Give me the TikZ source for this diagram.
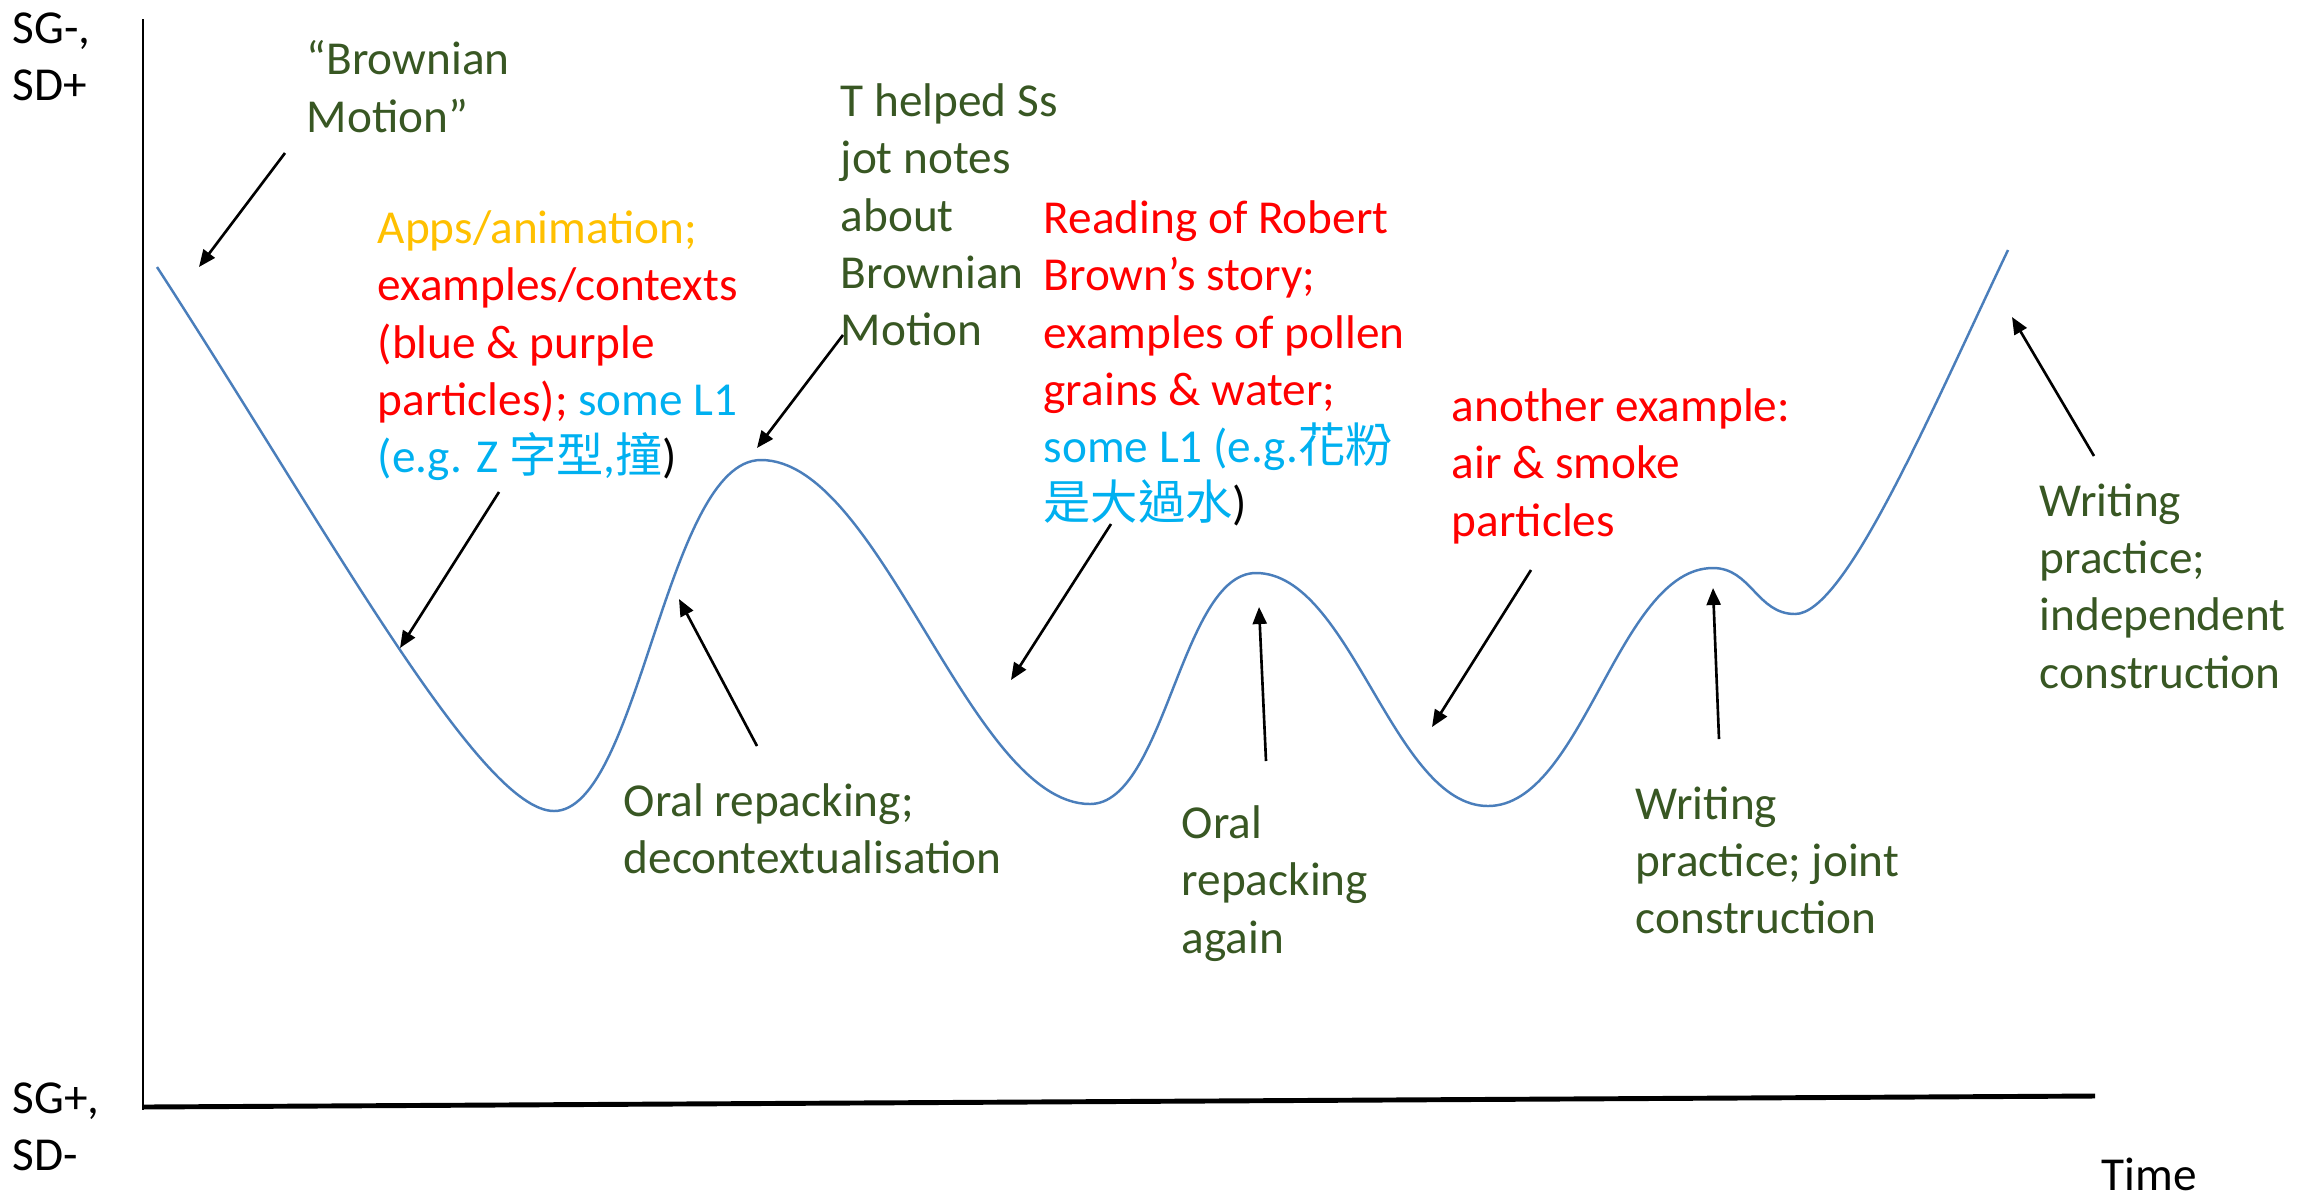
\documentclass[tikz,border=0pt]{standalone}
\usepackage{fontspec}
\setmainfont{Carlito}
\newfontfamily\cjk{Noto Sans CJK TC}
\usetikzlibrary{arrows.meta}
\definecolor{olivetxt}{HTML}{385723}
\definecolor{curveblue}{HTML}{4A7EBB}
\definecolor{appsorange}{HTML}{FFC000}
\definecolor{lonecyan}{HTML}{00B0F0}
\newcommand\lblsize{\fontsize{13.45pt}{16.3pt}\selectfont}
\begin{document}
\begin{tikzpicture}[x=0.1mm,y=-0.1mm,
	lbl/.style={anchor=north west,inner sep=0pt,align=left,font=\lblsize},
	arr/.style={-{Triangle[length=1.7mm,width=1.4mm]},line width=0.75pt}]
	\useasboundingbox (0,0) rectangle (2304,1196);
	%axis
	\draw[line width=0.85pt] (143,19) -- (143,1110);
	\draw[line width=1.4pt] (143,1107) -- (2095,1096);

	%semantic wave
	\draw[curveblue,line width=0.7pt] (157,267) .. controls (327,529) and (480,811) .. (554,811)
	  .. controls (639,811) and (666,460) .. (761,460)
	  .. controls (881,460) and (970,804) .. (1090,804)
	  .. controls (1165,804) and (1181,573) .. (1256,573)
	  .. controls (1351,573) and (1393,806) .. (1488,806)
	  .. controls (1583,806) and (1618,568) .. (1713,568)
	  .. controls (1751,568) and (1757,614) .. (1795,614)
	  .. controls (1845,614) and (1928,418) .. (2008,250);

	%axis labels
	\node[lbl] (sgtop) at (12,12) {SG-,\\SD+};
	\node[lbl] (sgbot) at (12,1082) {SG+,\\SD-};
	\node[lbl] (time) at (2101,1157) {Time};

	%labels above the wave
	\node[lbl,text=olivetxt] (brownian) at (306,40) {“Brownian\\Motion”};
	\node[lbl] (apps) at (377,210) {\textcolor{appsorange}{Apps/animation;}\\
	  \textcolor{red}{examples/contexts}\\\textcolor{red}{(blue \& purple}\\
	  \textcolor{red}{particles);} \textcolor{lonecyan}{some L1}\\
	  \textcolor{lonecyan}{(e.g. Z {\cjk 字型},{\cjk 撞}})};
	\node[lbl,text=olivetxt] (thelped) at (840,83) {T helped Ss\\jot notes\\about\\Brownian\\Motion};
	\node[lbl,text=red] (reading) at (1043,200) {Reading of Robert\\Brown’s story;\\examples of pollen\\grains \& water;\\
	  \textcolor{lonecyan}{some L1 (e.g.{\cjk 花粉}}\\\textcolor{lonecyan}{\cjk 是大過水}\textcolor{black}{)}};
	\node[lbl,text=red] (another) at (1451,388) {another example:\\air \& smoke\\particles};
	\node[lbl,text=olivetxt] (wrindep) at (2039,483) {Writing\\practice;\\independent\\construction};

	%labels below the wave
	\node[lbl,text=olivetxt] (oralre) at (623,783) {Oral repacking;\\decontextualisation};
	\node[lbl,text=olivetxt] (oralagain) at (1181,805) {Oral\\repacking\\again};
	\node[lbl,text=olivetxt] (wrjoint) at (1635,786) {Writing\\practice; joint\\construction};

	%arrows
	\coordinate (brownian-tail) at (285,153); \coordinate (brownian-tip) at (199,267);
	\coordinate (apps-tail) at (499,492); \coordinate (apps-tip) at (400,648);
	\coordinate (thelped-tail) at (843,335); \coordinate (thelped-tip) at (757,448);
	\coordinate (reading-tail) at (1111,524); \coordinate (reading-tip) at (1011,680);
	\coordinate (another-tail) at (1531,570); \coordinate (another-tip) at (1432,727);
	\coordinate (oralre-tail) at (757,746); \coordinate (oralre-tip) at (679,599);
	\coordinate (oralagain-tail) at (1266,761); \coordinate (oralagain-tip) at (1259,607);
	\coordinate (wrjoint-tail) at (1719,739); \coordinate (wrjoint-tip) at (1713,588);
	\coordinate (wrindep-tail) at (2094,456); \coordinate (wrindep-tip) at (2012,317);
	\draw[arr] (brownian-tail) -- (brownian-tip);
	\draw[arr] (apps-tail) -- (apps-tip);
	\draw[arr] (thelped-tail) -- (thelped-tip);
	\draw[arr] (reading-tail) -- (reading-tip);
	\draw[arr] (another-tail) -- (another-tip);
	\draw[arr] (oralre-tail) -- (oralre-tip);
	\draw[arr] (oralagain-tail) -- (oralagain-tip);
	\draw[arr] (wrjoint-tail) -- (wrjoint-tip);
	\draw[arr] (wrindep-tail) -- (wrindep-tip);
\end{tikzpicture}
\end{document}
